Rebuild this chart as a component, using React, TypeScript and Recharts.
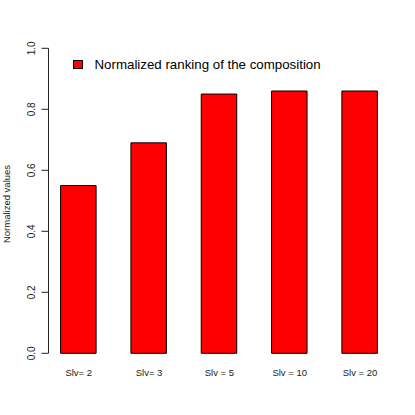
import React from "react";
import { BarChart, Bar, XAxis, YAxis } from "recharts";

const categories = ["Slv= 2", "Slv= 3", "Slv = 5", "Slv = 10", "Slv = 20"];
const rankingValues = [0.55, 0.69, 0.85, 0.86, 0.86];
const yTicks = [0, 0.2, 0.4, 0.6, 0.8, 1.0];
const seriesName = "Normalized ranking of the composition";
const yLabel = "Normalized values";

const data = categories.map((name, i) => ({ name, value: rankingValues[i] }));

const FONT = "'Liberation Sans', Arial, sans-serif";

const YTick = (props: any) => {
  const { x, y, payload } = props;
  return (
    <text
      x={x}
      y={y}
      transform={`rotate(-90, ${x}, ${y})`}
      textAnchor="middle"
      fontSize={10}
      fontFamily={FONT}
      fill="#222"
    >
      {payload.value.toFixed(1)}
    </text>
  );
};

// legend drawn as an overlay so it does not take space from the plot
const LegendBox = () => (
  <div
    style={{
      position: "absolute",
      left: 72.5,
      top: 56.5,
      display: "flex",
      alignItems: "center",
      fontFamily: FONT,
      whiteSpace: "nowrap",
    }}
  >
    <span
      style={{
        display: "inline-block",
        width: 8,
        height: 7,
        background: "#ff0000",
        border: "1px solid #000",
        marginRight: 12,
      }}
    />
    <span style={{ fontSize: 13.3, color: "#000" }}>{seriesName}</span>
  </div>
);

export default function App() {
  return (
    <div
      style={{
        position: "absolute",
        left: 0,
        top: 0,
        width: 415,
        height: 415,
        background: "#fff",
      }}
    >
      <BarChart
        width={415}
        height={415}
        data={data}
        margin={{ top: 48.3, right: 24.5, bottom: 0, left: 0 }}
      >
        <XAxis
          dataKey="name"
          height={61.7}
          axisLine={false}
          tickLine={false}
          tickSize={0}
          tickMargin={16}
          interval={0}
          padding={{ left: -4.9, right: -4.7 }}
          tick={{ fontSize: 9.5, fontFamily: FONT, fill: "#222" }}
        />
        <YAxis
          width={48.5}
          domain={[0, 1]}
          ticks={yTicks}
          tickSize={7}
          tickMargin={6}
          stroke="#222"
          tick={<YTick />}
          label={{
            content: () => (
              <text
                x={10}
                y={204}
                transform="rotate(-90, 10, 204)"
                textAnchor="middle"
                fontSize={9.5}
                fontFamily={FONT}
                fill="#222"
              >
                {yLabel}
              </text>
            ),
          }}
        />
        <Bar
          dataKey="value"
          name={seriesName}
          fill="#ff0000"
          stroke="#000"
          strokeWidth={1}
          barSize={35.5}
          isAnimationActive={false}
        />
      </BarChart>
      <LegendBox />
    </div>
  );
}
